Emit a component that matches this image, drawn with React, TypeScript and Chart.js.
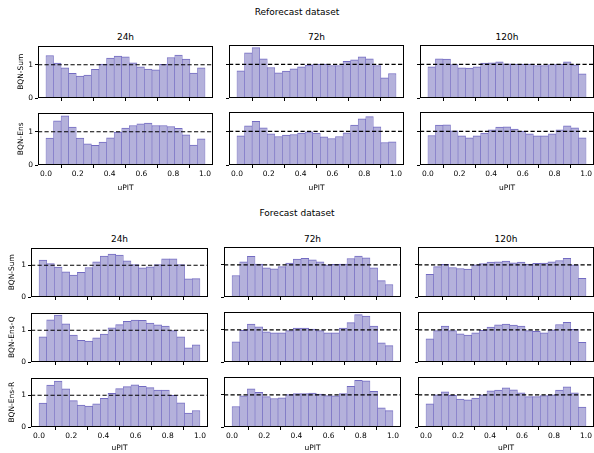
import React, { useEffect, useRef } from 'react';
import { Chart, registerables } from 'chart.js';
Chart.register(...registerables);

// ---------- data ----------
const leadTimes = ['24h', '72h', '120h'];
const xTickValues = [0, 0.2, 0.4, 0.6, 0.8, 1.0];
const yTickValues = [0, 1];
const binCount = 21;
const binCenters = Array.from({ length: binCount }, (_, i) => (i + 0.5) / binCount);

// Reforecast dataset
const refSum24 = [1.28, 1.05, 0.91, 0.74, 0.66, 0.69, 0.86, 1.02, 1.20, 1.26, 1.24, 1.06, 0.94, 0.87, 0.85, 1.01, 1.22, 1.29, 1.17, 0.75, 0.91];
const refSum72 = [0.81, 1.35, 1.50, 1.17, 0.91, 0.75, 0.80, 0.87, 0.93, 0.98, 1.01, 1.01, 0.97, 0.97, 1.09, 1.14, 1.23, 1.17, 0.97, 0.60, 0.73];
const refSum120 = [0.93, 1.17, 1.16, 1.00, 0.90, 0.89, 0.93, 1.04, 1.05, 1.08, 1.02, 1.01, 1.01, 1.01, 0.97, 0.97, 1.00, 1.01, 1.08, 0.99, 0.72];
const refEns24 = [0.81, 1.33, 1.48, 1.14, 0.81, 0.64, 0.59, 0.69, 0.82, 0.99, 1.11, 1.19, 1.24, 1.26, 1.19, 1.19, 1.16, 1.10, 0.91, 0.60, 0.79];
const refEns72 = [0.87, 1.17, 1.30, 1.11, 0.93, 0.85, 0.89, 0.91, 0.95, 0.99, 0.95, 0.84, 0.79, 0.85, 0.96, 1.19, 1.38, 1.44, 1.14, 0.67, 0.69];
const refEns120 = [0.88, 1.19, 1.20, 1.02, 0.87, 0.81, 0.87, 0.95, 1.05, 1.13, 1.14, 1.07, 1.01, 0.93, 0.87, 0.87, 0.93, 1.05, 1.17, 1.11, 0.81];

// Forecast dataset
const fcSum24 = [1.16, 1.05, 0.94, 0.79, 0.69, 0.78, 0.93, 1.11, 1.29, 1.35, 1.32, 1.14, 1.02, 0.92, 0.95, 1.02, 1.20, 1.20, 1.02, 0.57, 0.58];
const fcSum72 = [0.67, 1.10, 1.27, 1.03, 0.91, 0.88, 0.95, 1.06, 1.18, 1.21, 1.16, 1.10, 1.00, 1.02, 1.03, 1.20, 1.28, 1.22, 0.91, 0.51, 0.39];
const fcSum120 = [0.71, 0.95, 1.02, 0.92, 0.89, 0.87, 1.00, 1.04, 1.09, 1.10, 1.12, 1.07, 1.09, 1.03, 1.05, 1.06, 1.10, 1.14, 1.21, 1.00, 0.58];
const fcEnsQ24 = [0.79, 1.33, 1.48, 1.20, 0.85, 0.68, 0.66, 0.76, 0.88, 1.08, 1.18, 1.28, 1.32, 1.31, 1.23, 1.17, 1.13, 0.99, 0.79, 0.45, 0.54];
const fcEnsQ72 = [0.63, 0.99, 1.18, 1.10, 0.94, 0.91, 0.91, 0.98, 1.06, 1.06, 1.03, 0.98, 0.91, 0.91, 1.06, 1.23, 1.48, 1.43, 1.12, 0.60, 0.51];
const fcEnsQ120 = [0.72, 0.98, 1.12, 0.98, 0.88, 0.84, 0.91, 0.99, 1.09, 1.16, 1.18, 1.15, 1.12, 0.98, 0.96, 0.91, 1.00, 1.17, 1.24, 1.02, 0.61];
const fcEnsR24 = [0.75, 1.32, 1.45, 1.20, 0.83, 0.69, 0.66, 0.73, 0.90, 1.06, 1.21, 1.27, 1.33, 1.28, 1.24, 1.16, 1.16, 1.00, 0.76, 0.44, 0.52];
const fcEnsR72 = [0.64, 0.97, 1.19, 1.08, 0.95, 0.89, 0.91, 1.01, 1.04, 1.04, 1.06, 1.03, 0.98, 0.97, 1.04, 1.27, 1.46, 1.44, 1.11, 0.60, 0.51];
const fcEnsR120 = [0.72, 1.00, 1.10, 0.99, 0.87, 0.85, 0.90, 1.00, 1.13, 1.15, 1.22, 1.16, 1.07, 0.95, 0.95, 0.98, 1.00, 1.15, 1.25, 1.07, 0.62];

const reforecastRows = [
  { label: 'BQN-Sum', series: [refSum24, refSum72, refSum120] },
  { label: 'BQN-Ens', series: [refEns24, refEns72, refEns120] },
];
const forecastRows = [
  { label: 'BQN-Sum', series: [fcSum24, fcSum72, fcSum120] },
  { label: 'BQN-Ens-Q', series: [fcEnsQ24, fcEnsQ72, fcEnsQ120] },
  { label: 'BQN-Ens-R', series: [fcEnsR24, fcEnsR72, fcEnsR120] },
];

// ---------- style / layout ----------
const FONT = "'DejaVu Sans', sans-serif";
const BAR_FILL = '#b4b1db';
const BAR_EDGE = '#736bc2';
const PAD_L = 40;
const PAD_T = 6;
const PAD_R = 6;
const PAD_B = 32;

type Rect = { l: number; t: number; w: number; h: number };

const framePlugin = {
  id: 'frame',
  afterDatasetsDraw(chart: any) {
    const { ctx, chartArea } = chart;
    const l = Math.round(chartArea.left) + 0.5;
    const t = Math.round(chartArea.top) + 0.5;
    const r = Math.round(chartArea.right) - 0.5;
    const b = Math.round(chartArea.bottom) - 0.5;
    ctx.save();
    ctx.strokeStyle = '#000';
    ctx.lineWidth = 1;
    ctx.strokeRect(l, t, r - l, b - t);
    ctx.restore();
  },
};

type PanelProps = {
  rect: Rect;
  values: number[];
  yMax: number;
  showYLabels: boolean;
  showXLabels: boolean;
  yTitle?: string;
  yTitlePad: number;
  xTitlePad: number;
};

function Panel({ rect, values, yMax, showYLabels, showXLabels, yTitle, yTitlePad, xTitlePad }: PanelProps) {
  const ref = useRef<HTMLCanvasElement>(null);
  const cw = rect.w + PAD_L + PAD_R;
  const ch = rect.h + PAD_T + PAD_B;
  useEffect(() => {
    const tickFont = { family: FONT, size: 7.5 };
    const chart = new Chart(ref.current as HTMLCanvasElement, {
      type: 'bar',
      data: {
        datasets: [
          {
            type: 'line',
            data: [{ x: -0.05, y: 1 }, { x: 1.05, y: 1 }],
            borderColor: '#000',
            borderWidth: 1.2,
            borderDash: [4.2, 2.3],
            pointRadius: 0,
            order: 0,
          } as any,
          {
            type: 'bar',
            data: binCenters.map((x, i) => ({ x, y: values[i] })),
            backgroundColor: BAR_FILL,
            borderColor: BAR_EDGE,
            borderWidth: { top: 1, left: 0.6, right: 0.6, bottom: 0 },
            borderSkipped: false,
            barPercentage: 1,
            categoryPercentage: 1,
            order: 1,
          } as any,
        ],
      },
      options: {
        animation: false,
        responsive: false,
        maintainAspectRatio: false,
        devicePixelRatio: 1,
        events: [],
        layout: { padding: { top: PAD_T, right: PAD_R, left: 0, bottom: 0 } },
        plugins: { legend: { display: false }, tooltip: { enabled: false }, title: { display: false } },
        scales: {
          x: {
            type: 'linear',
            min: -0.05,
            max: 1.05,
            offset: false,
            afterBuildTicks: (ax: any) => {
              ax.ticks = xTickValues.map((v) => ({ value: v }));
            },
            afterFit: (s: any) => {
              s.height = PAD_B;
            },
            ticks: {
              display: showXLabels,
              callback: (v: any) => Number(v).toFixed(1),
              font: tickFont,
              color: '#000',
              padding: 1.5,
              autoSkip: false,
              maxRotation: 0,
            },
            grid: { display: true, drawOnChartArea: false, drawTicks: true, tickLength: 3, color: '#000', lineWidth: 1 },
            border: { display: false },
            title: {
              display: showXLabels,
              text: 'uPIT',
              font: { family: FONT, size: 7.5 },
              color: '#000',
              padding: { top: 0, bottom: xTitlePad },
            },
          },
          y: {
            type: 'linear',
            min: 0,
            max: yMax,
            afterBuildTicks: (ax: any) => {
              ax.ticks = yTickValues.map((v) => ({ value: v }));
            },
            afterFit: (s: any) => {
              s.width = PAD_L;
            },
            ticks: {
              display: showYLabels,
              callback: (v: any) => String(v),
              font: tickFont,
              color: '#000',
              padding: 2,
            },
            grid: { display: true, drawOnChartArea: false, drawTicks: true, tickLength: 3, color: '#000', lineWidth: 1 },
            border: { display: false },
            title: {
              display: !!yTitle,
              text: yTitle || '',
              font: { family: FONT, size: 7.5 },
              color: '#000',
              padding: { top: yTitlePad, bottom: 0 },
            },
          },
        },
      } as any,
      plugins: [framePlugin],
    });
    return () => chart.destroy();
  }, []);
  return (
    <canvas
      ref={ref}
      width={cw}
      height={ch}
      style={{ position: 'absolute', left: rect.l - PAD_L, top: rect.t - PAD_T, width: cw, height: ch }}
    />
  );
}

const textStyle = (x: number, y: number, size: number): React.CSSProperties => ({
  position: 'absolute',
  left: x,
  top: y,
  transform: 'translate(-50%, -50%)',
  fontFamily: FONT,
  fontSize: size,
  color: '#000',
  whiteSpace: 'nowrap',
  lineHeight: 1,
});

// Section layouts
const refColL = [38, 229, 420];
const refColW = [175, 175, 174];
const refRowT = [45, 112];
const refRowH = 53;
const fcColL = [31, 224, 418];
const fcColW = [177, 177, 176];
const fcRowT = [247, 312, 377];
const fcRowH = 50;

export default function App() {
  useEffect(() => {
    document.body.style.margin = '0';
  }, []);
  const panels: React.ReactNode[] = [];
  reforecastRows.forEach((row, ri) => {
    row.series.forEach((vals, ci) => {
      panels.push(
        <Panel
          key={`r${ri}${ci}`}
          rect={{ l: refColL[ci], t: refRowT[ri], w: refColW[ci], h: refRowH }}
          values={vals}
          yMax={1.58}
          showYLabels={ci === 0}
          showXLabels={ri === reforecastRows.length - 1}
          yTitle={ci === 0 ? row.label : undefined}
          yTitlePad={18.5}
          xTitlePad={4.5}
        />
      );
    });
  });
  forecastRows.forEach((row, ri) => {
    row.series.forEach((vals, ci) => {
      panels.push(
        <Panel
          key={`f${ri}${ci}`}
          rect={{ l: fcColL[ci], t: fcRowT[ri], w: fcColW[ci], h: fcRowH }}
          values={vals}
          yMax={1.56}
          showYLabels={ci === 0}
          showXLabels={ri === forecastRows.length - 1}
          yTitle={ci === 0 ? row.label : undefined}
          yTitlePad={16.5}
          xTitlePad={6.5}
        />
      );
    });
  });
  return (
    <div style={{ position: 'absolute', left: 0, top: 0, width: 594, height: 453, background: '#fff', overflow: 'hidden' }}>
      <div style={textStyle(297, 12, 9)}>Reforecast dataset</div>
      {leadTimes.map((lt, ci) => (
        <div key={`rt${ci}`} style={textStyle(refColL[ci] + refColW[ci] / 2, 37, 9)}>{lt}</div>
      ))}
      <div style={textStyle(297, 213, 9)}>Forecast dataset</div>
      {leadTimes.map((lt, ci) => (
        <div key={`ft${ci}`} style={textStyle(fcColL[ci] + fcColW[ci] / 2, 239, 9)}>{lt}</div>
      ))}
      {panels}
    </div>
  );
}
